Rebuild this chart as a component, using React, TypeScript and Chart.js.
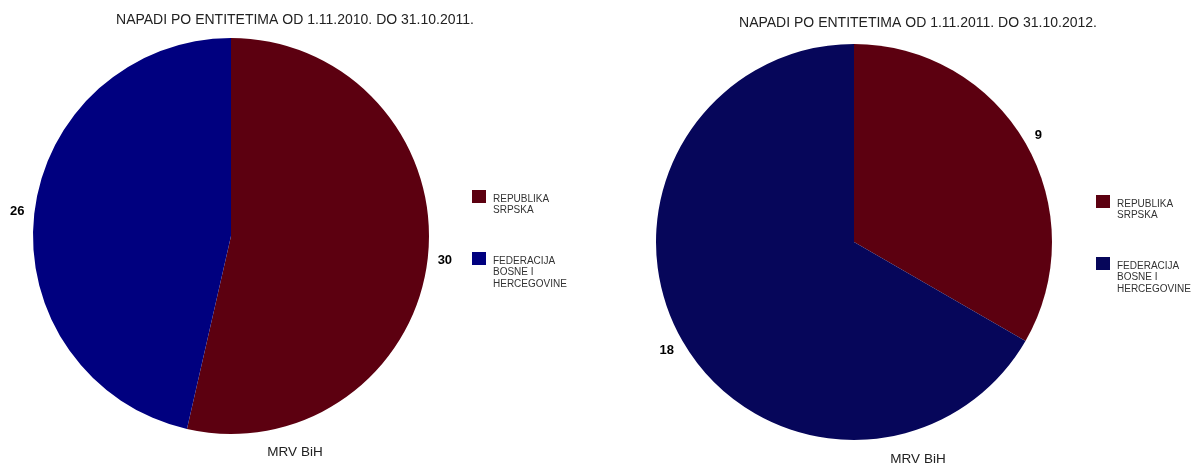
import React, { useEffect, useRef } from 'react';
import { Chart, registerables } from 'chart.js';

Chart.register(...registerables);

// ---- data ----
const categories = ['REPUBLIKA SRPSKA', 'FEDERACIJA BOSNE I HERCEGOVINE'];
const legendLines = [['REPUBLIKA', 'SRPSKA'], ['FEDERACIJA', 'BOSNE I', 'HERCEGOVINE']];
const values2011 = [30, 26];
const values2012 = [9, 18];
const title2011 = 'NAPADI PO ENTITETIMA OD 1.11.2010. DO 31.10.2011.';
const title2012 = 'NAPADI PO ENTITETIMA OD 1.11.2011. DO 31.10.2012.';
const footerText = 'MRV BiH';

const FONT = '"Liberation Sans", Arial, sans-serif';
const PANEL_W = 596;
const PANEL_H = 463;

type PanelCfg = {
  values: number[];
  title: string;
  colors: string[];
  left: number;
  pad: { left: number; right: number; top: number; bottom: number };
  titlePos: [number, number];
  footPos: [number, number];
  legendX: number;
  legendTops: number[];
};

const panels: PanelCfg[] = [
  {
    values: values2011,
    title: title2011,
    colors: ['#5c0010', '#00007f'],
    left: 0,
    pad: { left: 33, right: 167, top: 38, bottom: 29 },
    titlePos: [295, 20],
    footPos: [295, 452],
    legendX: 472,
    legendTops: [190, 252],
  },
  {
    values: values2012,
    title: title2012,
    colors: ['#5c0010', '#06065a'],
    left: 596,
    pad: { left: 60, right: 140, top: 44, bottom: 23 },
    titlePos: [918, 23.5],
    footPos: [918, 459],
    legendX: 1096,
    legendTops: [195, 257],
  },
];

function Panel({ cfg }: { cfg: PanelCfg }) {
  const ref = useRef<HTMLCanvasElement | null>(null);

  useEffect(() => {
    if (!ref.current) return;
    const px = (x: number) => x - cfg.left;

    const decor = {
      id: 'decor',
      afterDraw(chart: any) {
        const ctx = chart.ctx as CanvasRenderingContext2D;
        ctx.save();
        ctx.textAlign = 'center';
        ctx.textBaseline = 'middle';

        // title
        ctx.fillStyle = '#222';
        ctx.font = `14px ${FONT}`;
        ctx.fillText(cfg.title, px(cfg.titlePos[0]), cfg.titlePos[1]);

        // footer (category axis title)
        ctx.font = `13.5px ${FONT}`;
        ctx.fillStyle = '#222';
        ctx.fillText(footerText, px(cfg.footPos[0]), cfg.footPos[1]);

        // value labels outside the slices
        ctx.font = `bold 13px ${FONT}`;
        ctx.fillStyle = '#000';
        const meta = chart.getDatasetMeta(0);
        meta.data.forEach((arc: any, i: number) => {
          const p = arc.getProps(['x', 'y', 'startAngle', 'endAngle', 'outerRadius'], true);
          const mid = (p.startAngle + p.endAngle) / 2;
          const txt = String(cfg.values[i]);
          const w = ctx.measureText(txt).width;
          const h = 9.5;
          const c = Math.cos(mid);
          const s = Math.sin(mid);
          const ext = Math.abs(c) * w / 2 + Math.abs(s) * h / 2;
          const d = p.outerRadius + 9.5 + ext;
          ctx.fillText(txt, p.x + c * d, p.y + s * d);
        });

        // legend
        ctx.textAlign = 'left';
        ctx.font = `10px ${FONT}`;
        legendLines.forEach((lines, i) => {
          const top = cfg.legendTops[i];
          ctx.fillStyle = cfg.colors[i];
          ctx.fillRect(px(cfg.legendX), top, 14, 13);
          ctx.fillStyle = '#333';
          lines.forEach((ln, j) => {
            ctx.fillText(ln, px(cfg.legendX) + 21, top + 9 + j * 11.5);
          });
        });
        ctx.restore();
      },
    };

    const chart = new Chart(ref.current, {
      type: 'pie',
      data: {
        labels: categories,
        datasets: [
          {
            data: cfg.values,
            backgroundColor: cfg.colors,
            borderWidth: 0,
            hoverOffset: 0,
          },
        ],
      },
      options: {
        responsive: false,
        animation: false,
        events: [],
        layout: { padding: cfg.pad },
        plugins: {
          legend: { display: false },
          title: { display: false },
          tooltip: { enabled: false },
        },
      },
      plugins: [decor],
    });
    return () => chart.destroy();
  }, [cfg]);

  return (
    <div
      style={{
        position: 'absolute',
        left: cfg.left,
        top: 0,
        width: PANEL_W,
        height: PANEL_H,
      }}
    >
      <canvas ref={ref} width={PANEL_W} height={PANEL_H} style={{ display: 'block' }} />
    </div>
  );
}

export default function App() {
  return (
    <div
      style={{
        position: 'absolute',
        left: 0,
        top: 0,
        width: 1192,
        height: 463,
        background: '#fff',
        overflow: 'hidden',
      }}
    >
      {panels.map((p, i) => (
        <Panel key={i} cfg={p} />
      ))}
    </div>
  );
}
